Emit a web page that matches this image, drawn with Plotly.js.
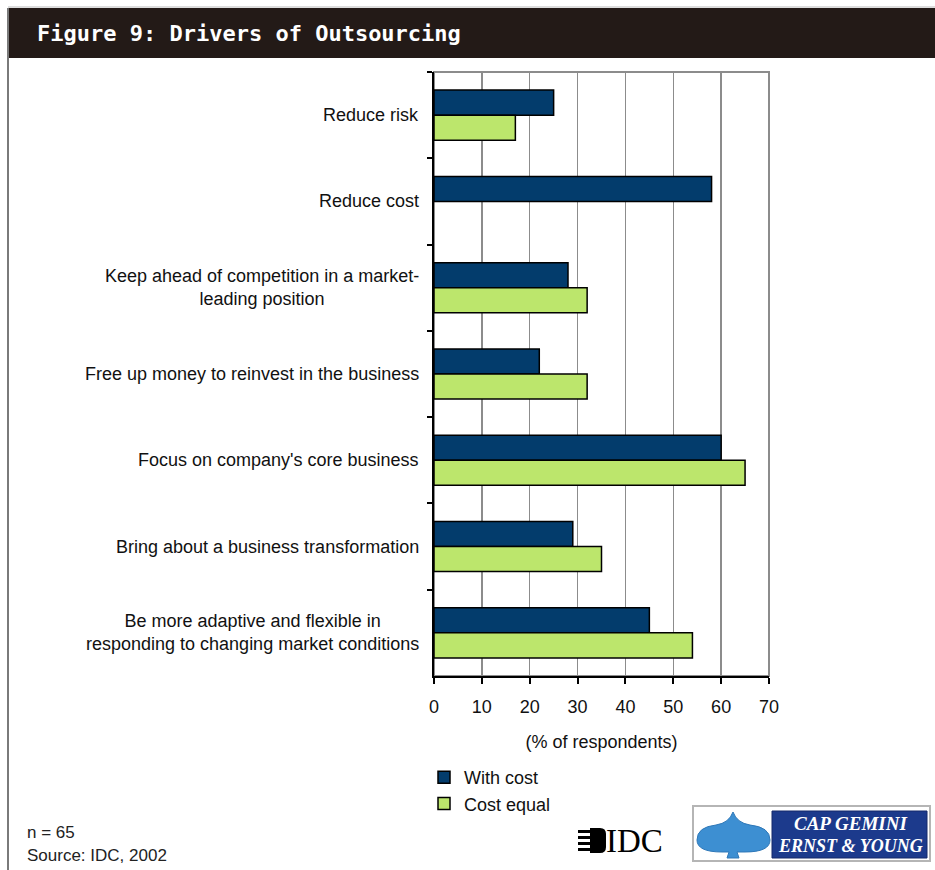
<!DOCTYPE html>
<html>
<head>
<meta charset="utf-8">
<script src="https://cdn.plot.ly/plotly-3.0.1.min.js"></script>
<style>html,body{margin:0;padding:0;background:#fff;}#chart{width:935px;height:870px;}</style>
</head>
<body>
<div id="chart"></div>
<script>
// ---- data ----
const categories = [
  "Reduce risk",
  "Reduce cost",
  "Keep ahead of competition in a market-<br>leading position",
  "Free up money to reinvest in the business",
  "Focus on company's core business",
  "Bring about a business transformation",
  "Be more adaptive and flexible in<br>responding to changing market conditions"
];
const withCost   = [25, 58, 28, 22, 60, 29, 45];
const costEqual  = [17, null, 32, 32, 65, 35, 54];
const seriesNames = ["With cost", "Cost equal"];
const xTicks = [0, 10, 20, 30, 40, 50, 60, 70];
const titleText = "Figure 9: Drivers of Outsourcing";
const axisTitle = "(% of respondents)";
const footLines = ["n = 65", "Source: IDC, 2002"];

// ---- pixel -> paper helpers (layout only) ----
const PL = 434, PR = 769, PT = 72, PB = 676;
const px = x => (x - PL) / (PR - PL);
const py = y => (PB - y) / (PB - PT);
function path(pts) {
  return pts.map(p => {
    if (p[0] === 'Z') return 'Z';
    let s = p[0];
    for (let i = 1; i < p.length; i += 2) s += (i > 1 ? ' ' : '') + px(p[i]).toFixed(5) + ',' + py(p[i+1]).toFixed(5);
    return s;
  }).join(' ');
}

const traces = [
  { type: 'bar', orientation: 'h', name: seriesNames[0], y: categories, x: withCost,
    marker: { color: '#033c6c', line: { color: '#000', width: 1.5 } } },
  { type: 'bar', orientation: 'h', name: seriesNames[1], y: categories, x: costEqual,
    marker: { color: '#bce66c', line: { color: '#000', width: 1.5 } } }
];

const F = 'Liberation Sans, Arial, sans-serif';
const shapes = [
  { type: 'rect', xref: 'paper', yref: 'paper', x0: px(8), x1: px(936), y0: py(8), y1: py(58),
    fillcolor: '#231a17', line: { width: 0 }, layer: 'below' },
  { type: 'line', xref: 'paper', yref: 'paper', x0: px(8), x1: px(936), y0: py(7), y1: py(7),
    line: { color: '#bbbbbb', width: 1 } },
  { type: 'line', xref: 'paper', yref: 'paper', x0: px(8), x1: px(8), y0: py(8), y1: py(870),
    line: { color: '#7a7a7a', width: 2 } },
  { type: 'rect', xref: 'paper', yref: 'paper', x0: 0, x1: 1, y0: 0, y1: 1,
    line: { color: '#8c8c8c', width: 2 }, layer: 'below' },
  // IDC mark
  { type: 'rect', xref: 'paper', yref: 'paper', x0: px(578), x1: px(591), y0: py(830), y1: py(833), fillcolor: '#000', line: { width: 0 } },
  { type: 'rect', xref: 'paper', yref: 'paper', x0: px(578), x1: px(591), y0: py(836), y1: py(839), fillcolor: '#000', line: { width: 0 } },
  { type: 'rect', xref: 'paper', yref: 'paper', x0: px(578), x1: px(591), y0: py(842), y1: py(845), fillcolor: '#000', line: { width: 0 } },
  { type: 'rect', xref: 'paper', yref: 'paper', x0: px(578), x1: px(591), y0: py(848), y1: py(851), fillcolor: '#000', line: { width: 0 } },
  { type: 'path', xref: 'paper', yref: 'paper', fillcolor: '#000', line: { width: 0 },
    path: path([['M',590,828],['L',600,828],['Q',606,828,606,834],['L',606,847],['Q',606,853,600,853],['L',590,853],['Z']]) },
  // Cap Gemini logo
  { type: 'rect', xref: 'paper', yref: 'paper', x0: px(693), x1: px(930), y0: py(806), y1: py(861),
    fillcolor: '#ffffff', line: { color: '#b5b5b5', width: 2 } },
  { type: 'rect', xref: 'paper', yref: 'paper', x0: px(772), x1: px(927), y0: py(811), y1: py(858),
    fillcolor: '#1c3a8c', line: { color: '#14296a', width: 1 } },
  { type: 'path', xref: 'paper', yref: 'paper', fillcolor: '#3d8fd2', line: { color: '#2f78b8', width: 1 },
    path: path([['M',697,840],['Q',697,827,716,825],['Q',729,823,733,812],['Q',737,823,750,825],
                ['Q',770,827,770,840],['Q',770,852,745,852],['L',737,852],['L',739,858],['L',727,858],
                ['L',729,852],['L',722,852],['Q',697,852,697,840],['Z']]) }
];

const annotations = [
  { xref: 'paper', yref: 'paper', x: px(35), y: py(33), xanchor: 'left', yanchor: 'middle', showarrow: false,
    text: '<b>' + titleText + '</b>', font: { family: 'DejaVu Sans Mono, monospace', size: 22, color: '#ffffff' } },
  { xref: 'paper', yref: 'paper', x: px(25), y: py(832), xanchor: 'left', yanchor: 'middle', showarrow: false,
    text: footLines[0], font: { family: F, size: 17, color: '#222' } },
  { xref: 'paper', yref: 'paper', x: px(25), y: py(855), xanchor: 'left', yanchor: 'middle', showarrow: false,
    text: footLines[1], font: { family: F, size: 17, color: '#222' } },
  { xref: 'paper', yref: 'paper', x: px(604), y: py(841), xanchor: 'left', yanchor: 'middle', showarrow: false,
    text: 'IDC', font: { family: 'Liberation Serif, Times New Roman, serif', size: 33, color: '#000' } },
  { xref: 'paper', yref: 'paper', x: px(850), y: py(823), xanchor: 'center', yanchor: 'middle', showarrow: false,
    text: '<b><i>CAP GEMINI</i></b>', font: { family: 'Liberation Serif, serif', size: 19, color: '#ffffff' } },
  { xref: 'paper', yref: 'paper', x: px(850), y: py(846), xanchor: 'center', yanchor: 'middle', showarrow: false,
    text: '<b><i>ERNST &amp; YOUNG</i></b>', font: { family: 'Liberation Serif, serif', size: 18, color: '#ffffff' } }
];

// category labels, centred multi-line text, right edge near the axis
categories.forEach(c => annotations.push({
  xref: 'paper', yref: 'y', x: px(421), y: c, xanchor: 'right', yanchor: 'middle', align: 'center',
  showarrow: false, text: c, font: { family: F, size: 18, color: '#111' }
}));

const layout = {
  width: 935, height: 870,
  margin: { l: PL, r: 935 - PR, t: PT, b: 870 - PB, pad: 0 },
  paper_bgcolor: '#ffffff', plot_bgcolor: '#ffffff',
  barmode: 'group', bargap: 0.42, bargroupgap: 0,
  font: { family: F, size: 17, color: '#111' },
  showlegend: true,
  legend: { x: px(424), y: py(759), xanchor: 'left', yanchor: 'top', orientation: 'v',
            font: { family: F, size: 18, color: '#111' }, bgcolor: 'rgba(0,0,0,0)', traceorder: 'normal' },
  xaxis: {
    range: [0, 70], tickvals: xTicks, ticktext: xTicks.map(String),
    showgrid: true, gridcolor: '#8c8c8c', gridwidth: 1.5, zeroline: false,
    showline: true, linecolor: '#000', linewidth: 2,
    ticks: 'outside', ticklen: 6, tickwidth: 2, tickcolor: '#000',
    ticklabelstandoff: 7,
    tickfont: { family: F, size: 18, color: '#111' },
    title: { text: axisTitle, font: { family: F, size: 18, color: '#111' }, standoff: 20 },
    fixedrange: true
  },
  yaxis: {
    type: 'category', categoryorder: 'array', categoryarray: categories, autorange: 'reversed',
    showgrid: false, zeroline: false,
    showline: true, linecolor: '#000', linewidth: 2,
    ticks: 'outside', tickson: 'boundaries', ticklen: 5, tickwidth: 2, tickcolor: '#000',
    showticklabels: false,
    fixedrange: true
  },
  shapes: shapes,
  annotations: annotations
};

Plotly.newPlot('chart', traces, layout, { displayModeBar: false, staticPlot: true });
</script>
</body>
</html>
